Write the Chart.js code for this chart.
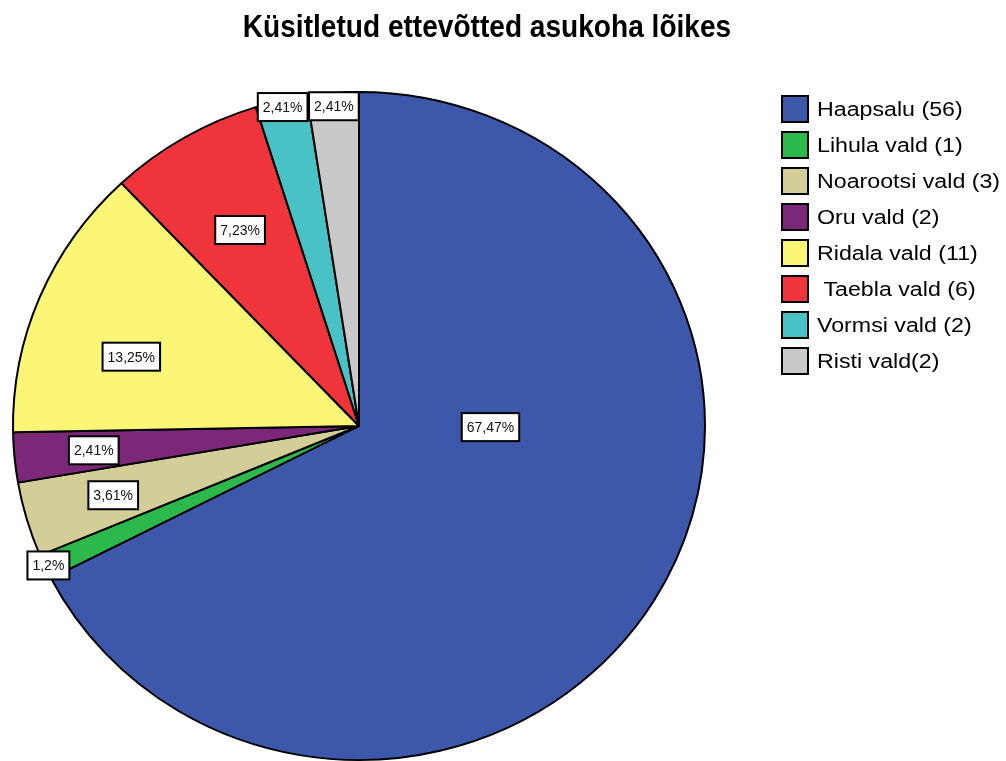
<!DOCTYPE html>
<html>
<head>
<meta charset="utf-8">
<script src="https://cdn.jsdelivr.net/npm/chart.js@4.4.0/dist/chart.umd.min.js"></script>
<style>
  html, body { margin:0; padding:0; background:#fff; overflow:hidden; }
  #wrap { width:1006px; height:800px; }
</style>
</head>
<body>
<div id="wrap"><canvas id="pie" width="1006" height="800"></canvas></div>
<script>
const chartTitle = 'Küsitletud ettevõtted asukoha lõikes';
const places = ['Haapsalu (56)', 'Lihula vald (1)', 'Noarootsi vald (3)', 'Oru vald (2)',
  'Ridala vald (11)', ' Taebla vald (6)', 'Vormsi vald (2)', 'Risti vald(2)'];
const counts = [56, 1, 3, 2, 11, 6, 2, 2];

const colors = ['#3d58ab', '#2db84b', '#d3ce98', '#7b2878', '#fbf676', '#f0343c', '#48c2c4', '#c9c9c9'];
// where the percent boxes sit: share of radius, optional angle in deg from 12 o'clock
const labelSpots = [{r:0.38, a:90.5}, {r:0.99}, {r:0.74}, {r:0.77}, {r:0.69, a:287.5}, {r:0.68}, {r:0.98}, {r:0.96}];

const FONT = '"Liberation Sans", Arial, sans-serif';
const squashY = 335 / 347;   // the original pie is a touch flatter than round

const total = counts.reduce((a, b) => a + b, 0);
const pctText = counts.map(v => String(+(v / total * 100).toFixed(2)).replace('.', ',') + '%');

function pieGeom(chart) {
  const arc = chart.getDatasetMeta(0).data[0];
  return { cx: arc.x, cy: arc.y, R: arc.outerRadius };
}

// text in the original is stretched, so draw it scaled
function stretchedText(ctx, txt, x, y, sx, sy) {
  ctx.save();
  ctx.translate(x, y);
  ctx.scale(sx, sy);
  ctx.fillText(txt, 0, 0);
  ctx.restore();
}

const squash = {
  id: 'squash',
  beforeDatasetsDraw(chart) {
    const { cx, cy } = pieGeom(chart);
    const ctx = chart.ctx;
    ctx.save();
    ctx.translate(cx, cy);
    ctx.scale(1, squashY);
    ctx.translate(-cx, -cy);
  },
  afterDatasetsDraw(chart) {
    chart.ctx.restore();
  }
};

const extras = {
  id: 'extras',
  afterDraw(chart) {
    const ctx = chart.ctx;
    const { cx, cy, R } = pieGeom(chart);

    // title
    ctx.save();
    ctx.fillStyle = '#000';
    ctx.font = 'bold 26px ' + FONT;
    ctx.textAlign = 'center';
    ctx.textBaseline = 'alphabetic';
    stretchedText(ctx, chartTitle, 487, 37, 1.08, 1.22);
    ctx.restore();

    // percent boxes
    ctx.save();
    ctx.font = '14px ' + FONT;
    ctx.textAlign = 'center';
    ctx.textBaseline = 'middle';
    chart.getDatasetMeta(0).data.forEach((el, i) => {
      const spot = labelSpots[i];
      const ang = spot.a !== undefined ? spot.a * Math.PI / 180 - Math.PI / 2 : (el.startAngle + el.endAngle) / 2;
      const x = cx + spot.r * R * Math.cos(ang);
      const y = cy + spot.r * R * squashY * Math.sin(ang);
      const w = ctx.measureText(pctText[i]).width + 10;
      const h = 28;
      ctx.fillStyle = '#fff';
      ctx.fillRect(x - w / 2, y - h / 2, w, h);
      ctx.lineWidth = 2;
      ctx.strokeStyle = '#000';
      ctx.strokeRect(x - w / 2, y - h / 2, w, h);
      ctx.fillStyle = '#111';
      ctx.fillText(pctText[i], x, y + 1);
    });
    ctx.restore();

    // legend
    ctx.save();
    ctx.font = '20px ' + FONT;
    ctx.textAlign = 'left';
    ctx.textBaseline = 'middle';
    places.forEach((name, i) => {
      const y = 109 + i * 36;
      ctx.fillStyle = colors[i];
      ctx.fillRect(782, y - 13, 26, 26);
      ctx.lineWidth = 2;
      ctx.strokeStyle = '#000';
      ctx.strokeRect(782, y - 13, 26, 26);
      ctx.fillStyle = '#000';
      stretchedText(ctx, name, 817, y + 1, 1.16, 1);
    });
    ctx.restore();
  }
};

new Chart(document.getElementById('pie'), {
  type: 'pie',
  data: {
    labels: places,
    datasets: [{
      data: counts,
      backgroundColor: colors,
      borderColor: '#000',
      borderWidth: 2
    }]
  },
  options: {
    responsive: false,
    animation: false,
    layout: { padding: { left: 12, right: 300, top: 79, bottom: 27 } },
    plugins: {
      legend: { display: false },
      tooltip: { enabled: false }
    }
  },
  plugins: [squash, extras]
});
</script>
</body>
</html>
